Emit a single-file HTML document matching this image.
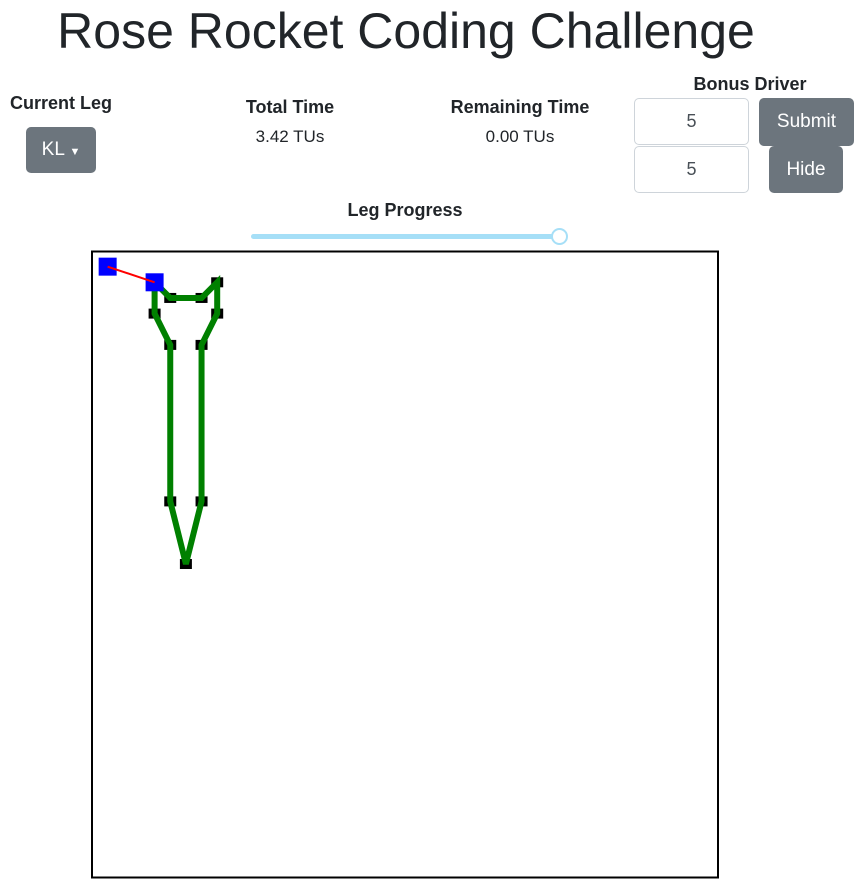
<!DOCTYPE html>
<html><head><meta charset="utf-8"><style>
body{margin:0;width:859px;height:886px;background:#fff;font-family:"Liberation Sans",sans-serif;color:#212529;position:relative;overflow:hidden}
.a{position:absolute}
h1{position:absolute;left:0;width:812px;text-align:center;top:2px;margin:0;font-size:50px;font-weight:500}
.lbl{font-weight:bold;font-size:18px;text-align:center}
.val{font-size:17px;text-align:center}
.btn{background:#6c757d;color:#fff;border-radius:5px;font-size:19px;text-align:center}
.inp{border:1px solid #ced4da;border-radius:5px;background:#fff;font-size:18px;text-align:center;color:#495057;box-sizing:border-box}
</style></head><body>
<h1>Rose Rocket Coding Challenge</h1>
<div class="a lbl" style="left:0;width:122px;top:93px">Current Leg</div>
<div class="a btn" style="left:26px;top:127px;width:70px;height:46px;line-height:46px">KL <span style="font-size:11px">▼</span></div>
<div class="a lbl" style="left:200px;width:180px;top:97px">Total Time</div>
<div class="a val" style="left:200px;width:180px;top:127px">3.42 TUs</div>
<div class="a lbl" style="left:420px;width:200px;top:97px">Remaining Time</div>
<div class="a val" style="left:420px;width:200px;top:127px">0.00 TUs</div>
<div class="a lbl" style="left:660px;width:180px;top:74px">Bonus Driver</div>
<div class="a inp" style="left:634px;top:98px;width:115px;height:47px;line-height:45px">5</div>
<div class="a inp" style="left:634px;top:146px;width:115px;height:47px;line-height:45px">5</div>
<div class="a btn" style="left:759px;top:98px;width:95px;height:48px;line-height:48px">Submit</div>
<div class="a btn" style="left:769px;top:146px;width:74px;height:47px;line-height:47px">Hide</div>
<div class="a lbl" style="left:305px;width:200px;top:200px">Leg Progress</div>
<div class="a" style="left:251px;top:234px;width:305px;height:5px;border-radius:3px;background:#a6dff7"></div>
<div class="a" style="left:551px;top:228px;width:13px;height:13px;border:2px solid #a6dff7;border-radius:50%;background:#fff"></div>
<svg class="a" style="left:0;top:0" width="859" height="886">
<rect x="92" y="251.5" width="626" height="626" fill="none" stroke="#000" stroke-width="2"/>
<g id="g"></g>
</svg>
<script>
const stopX=[20,25,35,40,40,35,35,30,25,25,20];
const stopY=[10,15,15,10,20,30,80,100,80,30,20];
const driver=[20,10];
const bonus=[5,5];
const sx=v=>92+v*3.13, sy=v=>251+v*3.13;
const g=document.getElementById('g');
const NS='http://www.w3.org/2000/svg';
function mk(t,a){const e=document.createElementNS(NS,t);for(const k in a)e.setAttribute(k,a[k]);g.appendChild(e);return e;}
stopX.forEach((x,i)=>{
 const r=mk('rect',{x:sx(x)-6,y:sy(stopY[i])-5,width:12,height:10,fill:'#000'});
 
 
});
let pts=stopX.map((x,i)=>sx(x)+','+sy(stopY[i]));pts.push(pts[0]);
const p=mk('polyline',{points:pts.join(' '),fill:'none',stroke:'#008000','stroke-width':6,'stroke-linejoin':'miter'});


[bonus,driver].forEach((d,i)=>{
 const r=mk('rect',{x:sx(d[0])-9,y:sy(d[1])-9,width:18,height:18,fill:'#0000ff'});
 
 
});
const l=mk('line',{x1:sx(bonus[0]),y1:sy(bonus[1]),x2:sx(driver[0]),y2:sy(driver[1]),stroke:'#ff0000','stroke-width':2});


</script>
</body></html>
